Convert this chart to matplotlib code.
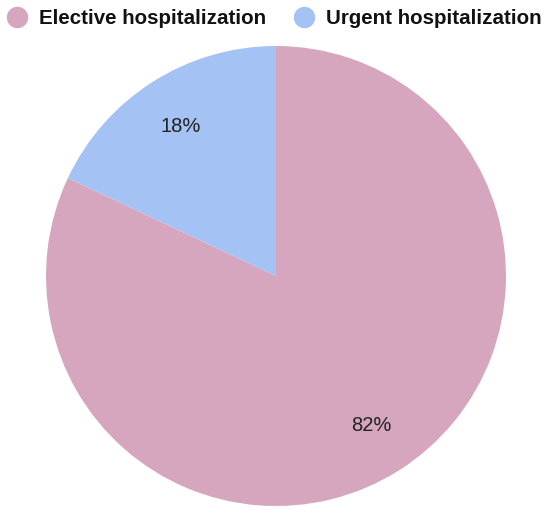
import matplotlib
matplotlib.use("Agg")
import matplotlib.pyplot as plt
from matplotlib.lines import Line2D

# data
labels = ["Elective hospitalization", "Urgent hospitalization"]
shares = [82, 18]
colors = ["#d5a6bd", "#a4c2f4"]

plt.rcParams["font.family"] = ["Liberation Sans", "DejaVu Sans"]

W, H = 550, 516
fig = plt.figure(figsize=(W / 100, H / 100), dpi=100)

# pie centre at (276, 276) px from top-left, radius 230 px
cx, cy, r = 276, 276, 230
ax = fig.add_axes([(cx - r) / W, (H - cy - r) / H, 2 * r / W, 2 * r / H])
wedges, texts, autotexts = ax.pie(
    shares,
    colors=colors,
    startangle=90,
    counterclock=False,
    autopct="%.0f%%",
    pctdistance=0.77,
    textprops=dict(fontsize=14.5, color="#222222"),
    wedgeprops=dict(linewidth=0),
)
ax.set_xlim(-1, 1)
ax.set_ylim(-1, 1)
ax.set_aspect("equal")
ax.axis("off")

handles = [
    Line2D([], [], marker="o", linestyle="none", markersize=14.4,
           markerfacecolor=c, markeredgecolor=c)
    for c in colors
]
fig.legend(
    handles, labels,
    loc="upper left", bbox_to_anchor=(7 / W, 1 - 9 / H),
    ncol=2, frameon=False,
    borderaxespad=0, borderpad=0,
    prop=dict(size=14.8, weight="bold"),
    handlelength=0.97, handletextpad=0.58, columnspacing=1.35,
    labelcolor="#111111",
)

fig.savefig("out.png", dpi=100)
